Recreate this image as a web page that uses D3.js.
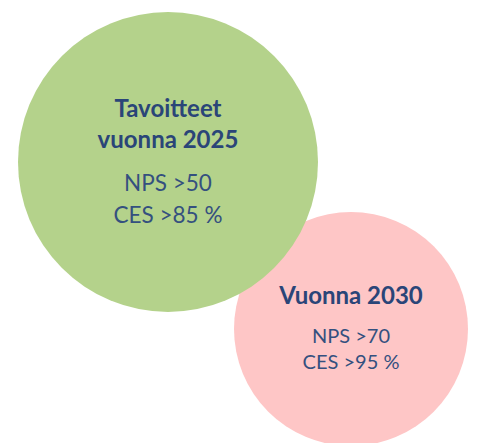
<!DOCTYPE html>
<html>
<head>
<meta charset="utf-8">
<script src="https://cdn.jsdelivr.net/npm/d3@7"></script>
<style>
  html, body { margin: 0; padding: 0; background: #fff; }
  svg { display: block; font-family: Lato, "Open Sans", sans-serif; }
</style>
</head>
<body>
<svg id="chart" width="478" height="443"></svg>
<script>
// Tekstit ympyröittäin
const titles = [["Tavoitteet", "vuonna 2025"], ["Vuonna 2030"]];
const npsTargets = [50, 70];
const cesTargets = [85, 95];

const width = 478, height = 443;
const svg = d3.select("#chart");

// Ympyröiden sijoittelu (pikseleinä)
const layout = [
  {cx: 168, cy: 162, r: 150, fill: "#b4d28b", titleY: 117, titleSize: 24, lineGap: 31, bodyY: 191, bodySize: 22.5, bodyGap: 32},
  {cx: 351, cy: 329, r: 117, fill: "#fec6c6", titleY: 304, titleSize: 24, lineGap: 30, bodyY: 343, bodySize: 20, bodyGap: 26}
];

// Pinkki piirretään ensin, vihreä päälle
const order = [1, 0];
order.forEach(i => {
  const l = layout[i];
  svg.append("circle")
    .attr("cx", l.cx)
    .attr("cy", l.cy)
    .attr("r", l.r)
    .attr("fill", l.fill);
});

titles.forEach((lines, i) => {
  const l = layout[i];
  const g = svg.append("g").attr("text-anchor", "middle");

  lines.forEach((t, j) => {
    g.append("text")
      .attr("x", l.cx)
      .attr("y", l.titleY + j * l.lineGap)
      .attr("font-size", l.titleSize)
      .attr("font-weight", "bold")
      .attr("fill", "#2a4578")
      .text(t);
  });

  const body = [`NPS >${npsTargets[i]}`, `CES >${cesTargets[i]} %`];
  body.forEach((t, j) => {
    g.append("text")
      .attr("x", l.cx)
      .attr("y", l.bodyY + j * l.bodyGap)
      .attr("font-size", l.bodySize)
      .attr("fill", "#34507f")
      .text(t);
  });
});
</script>
</body>
</html>
